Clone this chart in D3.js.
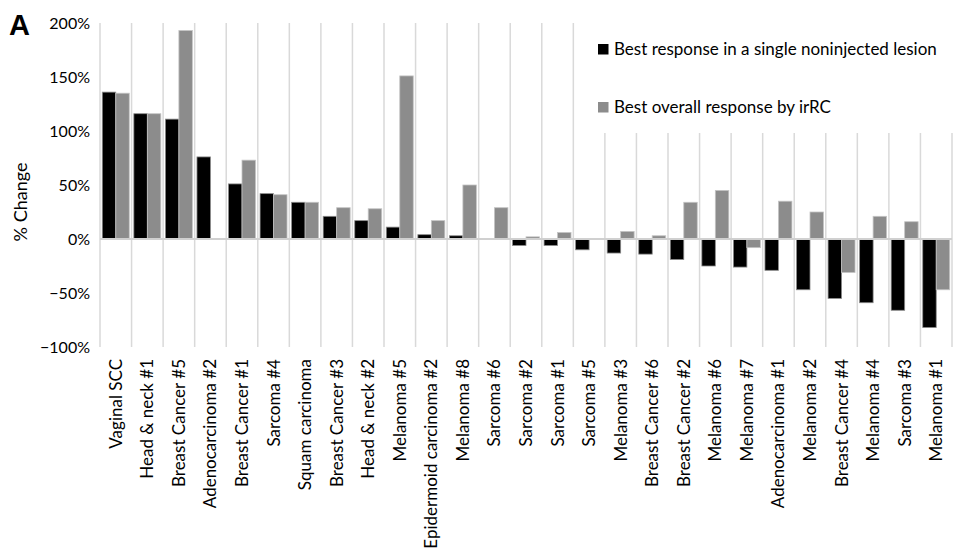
<!DOCTYPE html>
<html>
<head>
<meta charset="utf-8">
<script src="https://cdn.jsdelivr.net/npm/d3@7"></script>
<style>
  html, body { margin: 0; padding: 0; background: #fff; }
  svg { display: block; }
  text { font-family: Lato, "Open Sans", sans-serif; fill: #000; }
</style>
</head>
<body>
<svg id="chart" width="954" height="558"></svg>
<script>
// Tumour response per patient (% change)
const categories = [
  "Vaginal SCC", "Head & neck #1", "Breast Cancer #5", "Adenocarcinoma #2",
  "Breast Cancer #1", "Sarcoma #4", "Squam carcinoma", "Breast Cancer #3",
  "Head & neck #2", "Melanoma #5", "Epidermoid carcinoma #2", "Melanoma #8",
  "Sarcoma #6", "Sarcoma #2", "Sarcoma #1", "Sarcoma #5", "Melanoma #3",
  "Breast Cancer #6", "Breast Cancer #2", "Melanoma #6", "Melanoma #7",
  "Adenocarcinoma #1", "Melanoma #2", "Breast Cancer #4", "Melanoma #4",
  "Sarcoma #3", "Melanoma #1"
];
const singleLesion = [
  136, 116, 111, 76, 51, 42, 34, 21, 17, 11, 4, 3,
  0, -6, -6, -10, -13, -14, -19, -25, -26, -29, -47, -55, -59, -66, -82
];
const overallIrRC = [
  135, 116, 193, 0, 73, 41, 34, 29, 28, 151, 17, 50,
  29, 2, 6, 0, 7, 3, 34, 45, -8, 35, 25, -31, 21, 16, -47
];
const seriesNames = [
  "Best response in a single noninjected lesion",
  "Best overall response by irRC"
];
const yTicks = [-100, -50, 0, 50, 100, 150, 200];

const colors = ["#000000", "#8c8c8c"];
const strokes = ["#8a8a8a", "#c4c4c4"];

const svg = d3.select("#chart");
const margin = { left: 100, right: 2, top: 23, bottom: 211 };
const W = 954, H = 558;

const x = d3.scaleBand()
  .domain(categories)
  .range([margin.left, W - margin.right])
  .paddingInner(0).paddingOuter(0);

const y = d3.scaleLinear()
  .domain([-100, 200])
  .range([H - margin.bottom, margin.top]);

const sub = d3.scaleBand()
  .domain([0, 1])
  .range([0, x.bandwidth()])
  .paddingInner(0)
  .paddingOuter(0.17);

// Vertical separators between categories
const bounds = categories.map(c => x(c)).concat([x(categories[categories.length - 1]) + x.bandwidth()]);
svg.append("g").selectAll("line")
  .data(bounds)
  .join("line")
  .attr("x1", d => d).attr("x2", d => d)
  .attr("y1", y(200)).attr("y2", y(-100))
  .attr("stroke", "#d9d9d9")
  .attr("stroke-width", 1.5);

// Bars
const rows = categories.map((c, i) => ({ c, v: [singleLesion[i], overallIrRC[i]] }));
const groups = svg.append("g").selectAll("g")
  .data(rows)
  .join("g")
  .attr("transform", d => `translate(${x(d.c)},0)`);

groups.selectAll("rect")
  .data(d => d.v.map((v, k) => ({ v, k })).filter(e => e.v !== 0))
  .join("rect")
  .attr("x", e => sub(e.k))
  .attr("width", sub.bandwidth())
  .attr("y", e => y(Math.max(0, e.v)))
  .attr("height", e => Math.abs(y(e.v) - y(0)))
  .attr("fill", e => colors[e.k])
  .attr("stroke", e => strokes[e.k])
  .attr("stroke-width", 0.8);

// Zero baseline
svg.append("line")
  .attr("x1", margin.left).attr("x2", W - margin.right)
  .attr("y1", y(0)).attr("y2", y(0))
  .attr("stroke", "#d0d0d0")
  .attr("stroke-width", 2);

// Y axis labels
const yAxis = d3.axisLeft(y)
  .tickValues(yTicks)
  .tickFormat(d => (d < 0 ? "\u2212" + Math.abs(d) : d) + "%")
  .tickSize(0)
  .tickPadding(10);
const yg = svg.append("g")
  .attr("transform", `translate(${margin.left},0)`)
  .call(yAxis);
yg.select(".domain").remove();
yg.selectAll("text")
  .style("font-family", "Lato, 'Open Sans', sans-serif")
  .style("font-size", "16px")
  .attr("fill", "#000");

// Category labels (rotated)
const xAxis = d3.axisBottom(x).tickSize(0).tickPadding(0);
const xg = svg.append("g")
  .attr("transform", `translate(0,${y(-100)})`)
  .call(xAxis);
xg.select(".domain").remove();
xg.selectAll("text")
  .attr("transform", "rotate(-90)")
  .attr("x", -12)
  .attr("y", 0)
  .attr("dy", "0.35em")
  .style("text-anchor", "end")
  .style("font-family", "Lato, 'Open Sans', sans-serif")
  .style("font-size", "17px")
  .attr("fill", "#000");

// Y axis title
svg.append("text")
  .attr("transform", `translate(27,${(y(200) + y(-100)) / 2 + 17}) rotate(-90)`)
  .attr("text-anchor", "middle")
  .style("font-size", "18px")
  .text("% Change");

// Panel letter
svg.append("text")
  .attr("x", 9).attr("y", 35)
  .style("font-family", "Arial, 'Liberation Sans', sans-serif")
  .style("font-weight", "bold")
  .style("font-size", "29px")
  .text("A");

// Legend
const legend = svg.append("g").attr("transform", "translate(590,23)");
legend.append("rect")
  .attr("x", 0).attr("y", 0)
  .attr("width", W - 590).attr("height", 110)
  .attr("fill", "#fff");
const li = legend.selectAll("g.item")
  .data(seriesNames)
  .join("g")
  .attr("class", "item")
  .attr("transform", (d, i) => `translate(8,${21 + i * 58})`);
li.append("rect")
  .attr("width", 10.5).attr("height", 10.5)
  .attr("fill", (d, i) => colors[i]);
li.append("text")
  .attr("x", 16).attr("y", 11)
  .style("font-size", "17px")
  .text(d => d);
</script>
</body>
</html>
